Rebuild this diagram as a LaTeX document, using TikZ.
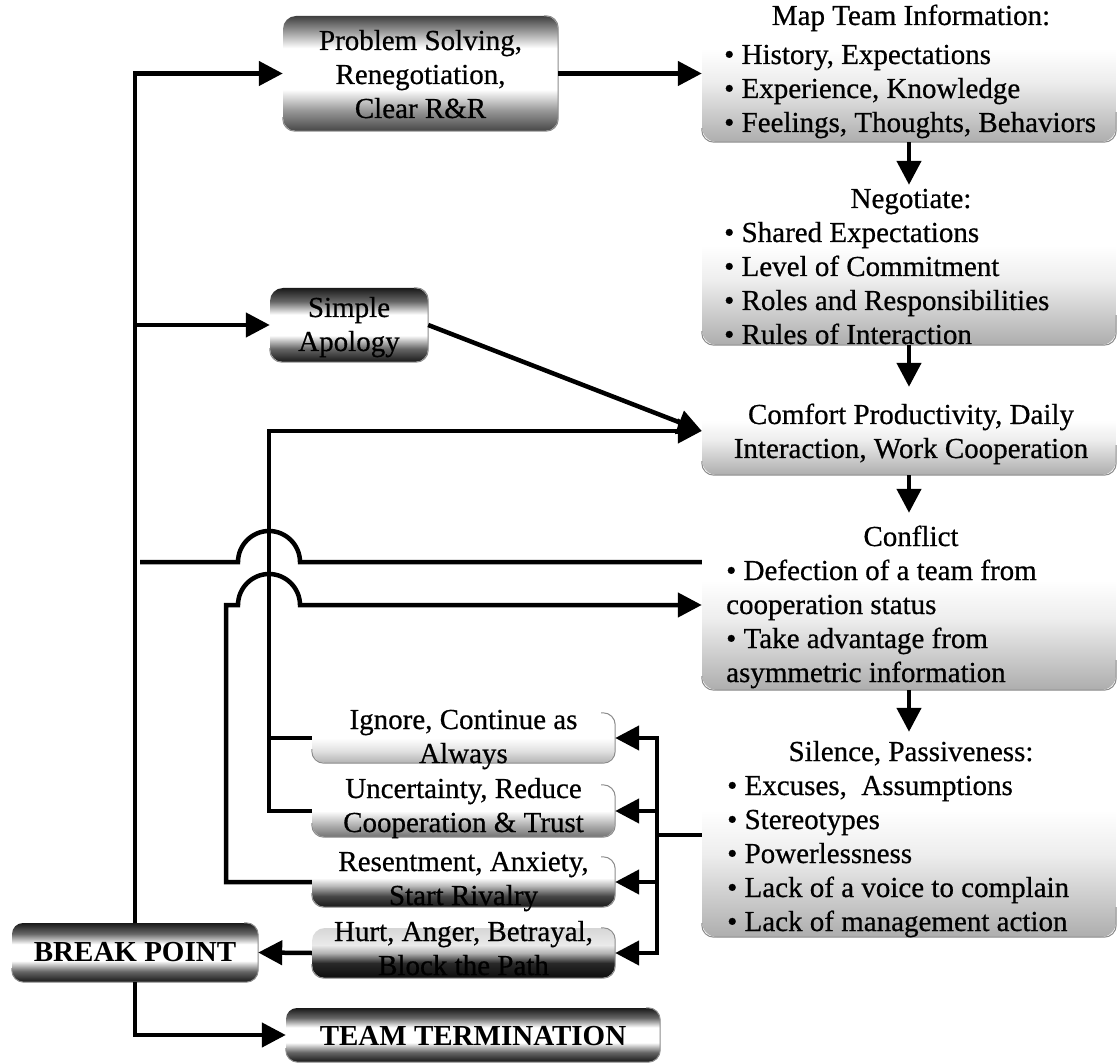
\documentclass[tikz,border=0pt]{standalone}
\usepackage{fontspec}
\setmainfont{Liberation Serif}
\newfontfamily\inkface{Liberation Serif}[FakeBold=0.6]
\usetikzlibrary{arrows.meta,calc}

% vertical shadings (0bp = bottom); a path is mapped onto 25bp..75bp
\pgfdeclareverticalshading{chromesoft}{100bp}{color(0bp)=(black!72); color(25bp)=(black!72); color(34bp)=(black!40); color(43bp)=(white); color(61bp)=(white); color(68bp)=(black!38); color(75bp)=(black!75); color(100bp)=(black!75)}
\pgfdeclareverticalshading{chromehard}{100bp}{color(0bp)=(black!90); color(25bp)=(black!90); color(34bp)=(black!60); color(43bp)=(white); color(57bp)=(white); color(66bp)=(black!60); color(75bp)=(black!90); color(100bp)=(black!90)}
\pgfdeclareverticalshading{fadeign}{100bp}{color(0bp)=(black!30); color(25bp)=(black!30); color(37bp)=(black!12); color(50bp)=(white); color(100bp)=(white)}
\pgfdeclareverticalshading{fadeunc}{100bp}{color(0bp)=(black!55); color(25bp)=(black!55); color(36bp)=(black!32); color(50bp)=(white); color(100bp)=(white)}
\pgfdeclareverticalshading{faderes}{100bp}{color(0bp)=(black!90); color(25bp)=(black!90); color(36bp)=(black!72); color(46bp)=(black!28); color(54bp)=(white); color(100bp)=(white)}
\pgfdeclareverticalshading{fadehurt}{100bp}{color(0bp)=(black!95); color(25bp)=(black!95); color(40bp)=(black!84); color(50bp)=(black!30); color(58bp)=(black!8); color(75bp)=(black!16); color(100bp)=(black!16)}
\pgfdeclareverticalshading{mist}{100bp}{color(0bp)=(black!32); color(25bp)=(black!32); color(33bp)=(black!22); color(45bp)=(black!7); color(56bp)=(white); color(100bp)=(white)}

\newcommand\txtc[1]{\begin{tabular}[t]{@{}c@{}}#1\end{tabular}}
\newcommand\txtl[1]{\begin{tabular}[t]{@{}l@{}}#1\end{tabular}}
% thin edge along the right and bottom sides of a panel
\newcommand\boxrim[1]{\draw[rimline] ($(#1.north east)+(-14,0)$) -- (#1.north east) -- (#1.south east) -- (#1.south west) -- ($(#1.south west)+(0,-14)$);}
% thin edge along the bottom side only
\newcommand\baserim[1]{\draw[rimline] ($(#1.south west)+(0,-14)$) -- (#1.south west) -- (#1.south east) -- ($(#1.south east)+(0,-30)$);}

\tikzset{
  conn/.style={line width=4.5pt},
  arr/.style={conn, -{Triangle[length=24pt,width=24pt]}},
  txt/.style={font=\inkface\fontsize{29}{34}\selectfont, inner sep=0pt, anchor=base},
  listtxt/.style={txt, anchor=base west},
  tag/.style={font=\fontsize{29}{34}\selectfont\bfseries, inner sep=0pt, anchor=base},
  panel/.style={rounded corners=13pt, inner sep=0pt, draw=none},
  note/.style={panel, shading=mist, rounded corners=15pt},
  rimline/.style={draw=black!45, line width=1pt, rounded corners=12pt},
}

\begin{document}
\begin{tikzpicture}[x=1pt,y=-1pt]
\useasboundingbox (0,0) rectangle (1117,1064);
\fill[white] (0,0) rectangle (1117,1064);

% ---------- panels ----------
\node[panel, shading=chromesoft, minimum width=275pt, minimum height=115pt] (solve) at (420.5,73.5) {};
\node[panel, shading=chromehard, minimum width=158pt, minimum height=74pt] (apology) at (349,325) {};
\node[note, minimum width=414pt, minimum height=150pt] (mapbox) at (909,67) {};
\node[note, minimum width=414pt, minimum height=160pt] (negbox) at (909,265) {};
\node[note, minimum width=414pt, minimum height=88pt] (comfbox) at (909,431) {};
\node[note, minimum width=414pt, minimum height=177pt] (confbox) at (909,601.5) {};
\node[note, minimum width=414pt, minimum height=205pt] (silbox) at (909,834.5) {};
\node[panel, shading=fadeign, minimum width=303pt, minimum height=50pt] (ignbox) at (463.5,738) {};
\node[panel, shading=fadeunc, minimum width=303pt, minimum height=52pt] (uncbox) at (463.5,811) {};
\node[panel, shading=faderes, minimum width=303pt, minimum height=50pt] (resbox) at (463.5,882) {};
\node[panel, shading=fadehurt, minimum width=303pt, minimum height=50pt] (hurtbox) at (463.5,953) {};
\node[panel, shading=chromehard, rounded corners=11pt, minimum width=246pt, minimum height=59pt] (breakbox) at (135,952.5) {};
\node[panel, shading=chromehard, rounded corners=11pt, minimum width=374pt, minimum height=54pt] (termbox) at (473,1035) {};

\boxrim{solve}
\boxrim{apology}
\boxrim{ignbox}
\boxrim{uncbox}
\boxrim{resbox}
\boxrim{hurtbox}
\boxrim{breakbox}
\boxrim{termbox}
\baserim{mapbox}
\baserim{negbox}
\baserim{comfbox}
\baserim{confbox}
\baserim{silbox}

% ---------- junction points ----------
\coordinate (vtwo) at (269,431);
\coordinate (vthree) at (226,605);
\coordinate (feedstart) at (140,562);
\coordinate (col) at (657,835);

% ---------- connectors ----------
\draw[arr] (breakbox.north) |- (solve.west);
\draw[arr] (breakbox.north |- apology.west) -- (apology.west);
\draw[arr] (solve.east) -- (solve.east -| mapbox.west);
\draw[arr] (mapbox.south) -- (negbox.north);
\draw[arr] (negbox.south) -- (comfbox.north);
\draw[arr] (comfbox.south) -- (confbox.north);
\draw[arr] (confbox.south) -- (silbox.north);
\draw[arr] (apology.east) -- (comfbox.west);
\draw[arr] (uncbox.west) -| (vtwo) -- (comfbox.west);
\draw[conn] (ignbox.west) -- (ignbox.west -| vtwo);
% lines hopping over the vertical at vtwo
\draw[conn] (feedstart) -- ($(vtwo |- feedstart)+(-31,0)$)
  .. controls +(0,-17) and +(-17,0) .. ++(31,-31)
  .. controls +(17,0) and +(0,-17) .. ++(31,31)
  -- (feedstart -| confbox.west);
\draw[arr] (resbox.west) -| (vthree) -- ($(vtwo |- vthree)+(-31,0)$)
  .. controls +(0,-17) and +(-17,0) .. ++(31,-31)
  .. controls +(17,0) and +(0,-17) .. ++(31,31)
  -- (vthree -| confbox.west);
% silence fans out to the four reactions
\draw[conn] (silbox.west |- col) -- (col);
\draw[arr] (col) |- (ignbox.east);
\draw[arr] (col) |- (uncbox.east);
\draw[arr] (col) |- (resbox.east);
\draw[arr] (col) |- (hurtbox.east);
\draw[arr] (hurtbox.west) -- (breakbox.east);
\draw[arr] (breakbox.south) |- (termbox.west);

% ---------- texts ----------
\node[txt] (solvetext) at (420.5,50) {\txtc{Problem Solving,\\Renegotiation,\\Clear R\&R}};
\node[txt] (apologytext) at (349,317) {\txtc{Simple\\Apology}};

\node[txt] (maptitle) at (911,25) {Map Team Information:};
\node[listtxt] (maplist) at (724,64) {\txtl{\textbullet\ History, Expectations\\\textbullet\ Experience, Knowledge\\\textbullet\ Feelings, Thoughts, Behaviors}};

\node[txt] (negtitle) at (911,208) {Negotiate:};
\node[listtxt] (neglist) at (724,242) {\txtl{\textbullet\ Shared Expectations\\\textbullet\ Level of Commitment\\\textbullet\ Roles and Responsibilities\\\textbullet\ Rules of Interaction}};

\node[txt] (comftext) at (911,424) {\txtc{Comfort Productivity, Daily\\Interaction, Work Cooperation}};

\node[txt] (conftitle) at (911,546) {Conflict};
\node[listtxt] (conflist) at (726,580) {\txtl{\textbullet\ Defection of a team from\\cooperation status\\\textbullet\ Take advantage from\\asymmetric information}};

\node[txt] (siltitle) at (911,761) {Silence, Passiveness:};
\node[listtxt] (sillist) at (727,795) {\txtl{\textbullet\ Excuses,~ Assumptions\\\textbullet\ Stereotypes\\\textbullet\ Powerlessness\\\textbullet\ Lack of a voice to complain\\\textbullet\ Lack of management action}};

\node[txt] (igntext) at (463.5,729) {\txtc{Ignore, Continue as\\Always}};
\node[txt] (unctext) at (463.5,798) {\txtc{Uncertainty, Reduce\\Cooperation \& Trust}};
\node[txt] (restext) at (463.5,871) {\txtc{Resentment, Anxiety,\\Start Rivalry}};
\node[txt] (hurttext) at (463.5,941) {\txtc{Hurt, Anger, Betrayal,\\Block the Path}};

\node[tag] (breaktext) at (135,961.5) {BREAK POINT};
\node[tag] (termtext) at (473,1045) {TEAM TERMINATION};
\end{tikzpicture}
\end{document}
